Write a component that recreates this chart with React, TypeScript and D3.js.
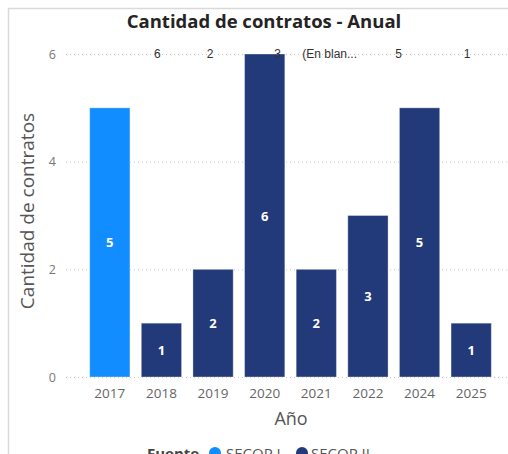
import { useEffect, useRef } from 'react';
import * as d3 from 'd3';

const years = ['2017', '2018', '2019', '2020', '2021', '2022', '2024', '2025'];
const counts = [5, 1, 2, 6, 2, 3, 5, 1];
const sources = ['SECOP I', 'SECOP II', 'SECOP II', 'SECOP II', 'SECOP II', 'SECOP II', 'SECOP II', 'SECOP II'];
const yTicks = [0, 2, 4, 6];
// stray labels shown along the top of the plot
const topLabels = ['6', '2', '3', '(En blan...', '5', '1'];
const topLabelYears = ['2018', '2019', '2020', '2021', '2024', '2025'];
const legendItems = ['SECOP I', 'SECOP II'];

export default function App() {
  const svgRef = useRef<SVGSVGElement>(null);

  useEffect(() => {
    if (!svgRef.current) return;
    const svg = d3.select(svgRef.current);
    svg.selectAll('*').remove();

    const width = 508;
    const height = 454;
    const font = "'Open Sans', 'DejaVu Sans', sans-serif";

    const colors: Record<string, string> = {
      'SECOP I': '#118dff',
      'SECOP II': '#233a7a',
    };

    // Frame
    svg.append('path')
      .attr('d', `M8.5,${height} V8.5 H${width}`)
      .attr('fill', 'none')
      .attr('stroke', '#d9d9d9')
      .attr('stroke-width', 1.5);

    const x = d3.scaleBand()
      .domain(years)
      .range([84, 497])
      .paddingInner(0.22)
      .paddingOuter(0.11);

    const y = d3.scaleLinear()
      .domain([0, 6])
      .range([377, 54]);

    // Grid
    svg.append('g')
      .selectAll('line')
      .data(yTicks)
      .enter()
      .append('line')
      .attr('x1', 66)
      .attr('x2', width)
      .attr('y1', d => y(d) + 0.5)
      .attr('y2', d => y(d) + 0.5)
      .attr('stroke', '#c8c8c8')
      .attr('stroke-width', 1)
      .attr('stroke-dasharray', '1,3');

    svg.append('g')
      .selectAll('text')
      .data(yTicks)
      .enter()
      .append('text')
      .attr('x', 56)
      .attr('y', d => y(d) + 4.5)
      .attr('text-anchor', 'end')
      .style('font-family', font)
      .style('font-size', '12.5px')
      .style('fill', '#777')
      .text(d => d);

    // Bars
    const data = years.map((yr, i) => ({ year: yr, value: counts[i], source: sources[i] }));

    svg.append('g')
      .selectAll('rect')
      .data(data)
      .enter()
      .append('rect')
      .attr('x', d => x(d.year)!)
      .attr('y', d => y(d.value))
      .attr('width', x.bandwidth())
      .attr('height', d => y(0) - y(d.value))
      .attr('fill', d => colors[d.source])
      .attr('stroke', 'rgba(255,255,255,0.35)')
      .attr('stroke-width', 1);

    svg.append('g')
      .selectAll('text')
      .data(data)
      .enter()
      .append('text')
      .attr('x', d => x(d.year)! + x.bandwidth() / 2)
      .attr('y', d => (y(d.value) + y(0)) / 2 + 5)
      .attr('text-anchor', 'middle')
      .style('font-family', font)
      .style('font-size', '13px')
      .style('font-weight', '700')
      .style('fill', '#fff')
      .text(d => d.value);

    // Labels along the top (they sit loosely around their bars)
    const topNudge = [-4, -3, 13, -14, -21, -4];
    svg.append('g')
      .selectAll('text')
      .data(topLabels)
      .enter()
      .append('text')
      .attr('x', (d, i) => x(topLabelYears[i])! + x.bandwidth() / 2 + topNudge[i])
      .attr('y', 58)
      .attr('text-anchor', d => (d.startsWith('(') ? 'start' : 'middle'))
      .style('font-family', "'Liberation Sans', Arial, sans-serif")
      .style('font-size', '12px')
      .style('fill', '#333')
      .text(d => d);

    // X axis labels
    svg.append('g')
      .selectAll('text')
      .data(years)
      .enter()
      .append('text')
      .attr('x', d => x(d)! + x.bandwidth() / 2)
      .attr('y', 398)
      .attr('text-anchor', 'middle')
      .style('font-family', font)
      .style('font-size', '13.5px')
      .style('fill', '#666')
      .text(d => d);

    // Title
    svg.append('text')
      .attr('x', 264)
      .attr('y', 28)
      .attr('text-anchor', 'middle')
      .style('font-family', font)
      .style('font-size', '18.5px')
      .style('font-weight', '700')
      .style('fill', '#252423')
      .text('Cantidad de contratos - Anual');

    // Axis titles
    svg.append('text')
      .attr('x', 291)
      .attr('y', 425)
      .attr('text-anchor', 'middle')
      .style('font-family', font)
      .style('font-size', '18px')
      .style('fill', '#555')
      .text('Año');

    svg.append('text')
      .attr('transform', 'rotate(-90)')
      .attr('x', -211)
      .attr('y', 34)
      .attr('text-anchor', 'middle')
      .style('font-family', font)
      .style('font-size', '19px')
      .style('fill', '#555')
      .text('Cantidad de contratos');

    // Legend
    const legend = svg.append('g').attr('transform', 'translate(0, 459)');
    legend.append('text')
      .attr('x', 147)
      .attr('y', 0)
      .style('font-family', font)
      .style('font-size', '15px')
      .style('font-weight', '700')
      .style('fill', '#444')
      .text('Fuente');

    const legendX = [215, 302];
    const legendTextX = [226, 311];
    legendItems.forEach((item, i) => {
      legend.append('circle')
        .attr('cx', legendX[i])
        .attr('cy', -6)
        .attr('r', 6)
        .attr('fill', colors[item]);
      legend.append('text')
        .attr('x', legendTextX[i])
        .attr('y', 0)
        .style('font-family', font)
        .style('font-size', '15px')
        .style('fill', '#555')
        .text(item);
    });
  }, []);

  return (
    <svg
      ref={svgRef}
      width={508}
      height={454}
      style={{ position: 'absolute', left: 0, top: 0, background: '#fff' }}
    />
  );
}
